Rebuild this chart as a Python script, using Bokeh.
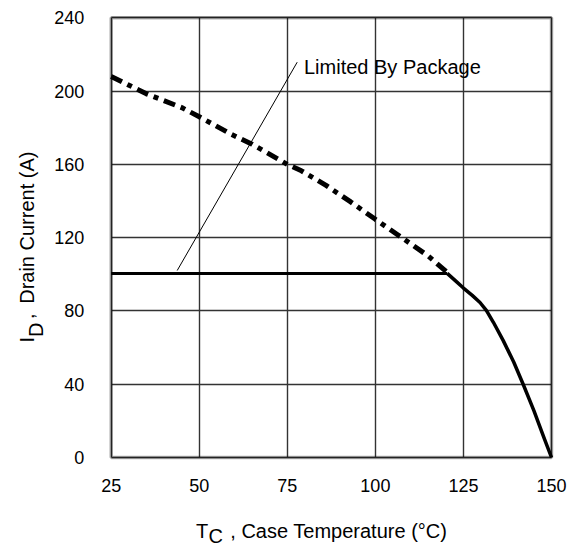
import numpy as np
from bokeh.plotting import figure
from bokeh.models import Label, Range1d, FixedTicker, BoxAnnotation, Grid
from bokeh.embed import file_html
from bokeh.resources import INLINE

# ---- data ----
temp_dashed = [25, 35, 45, 50, 59, 65, 75, 79, 86, 93, 100, 106, 115, 120.4]
id_dashed = [208, 198.5, 191, 186, 176.5, 171, 160, 156.5, 148.5, 139.5, 130, 122, 110, 101]
temp_solid = [120.4, 123, 125, 127.5, 129.7, 131.5, 133.5, 136.3, 139.3, 142.1, 145.0, 147.8, 150]
id_solid = [100.5, 96, 92.5, 88.5, 84.6, 80.3, 73.8, 63.8, 52.0, 39.3, 25.6, 11.1, 0]
package_temp = [25, 120.4]
package_id = [100.5, 100.5]
x_ticks = [25, 50, 75, 100, 125, 150]
y_ticks = [0, 40, 80, 120, 160, 200, 240]

FONT = "Liberation Sans"
X0, X1, Y0, Y1 = 25, 150, 0, 240
FL, FT, FW, FH = 110.7, 17.3, 440.3, 439.7  # chart box position in page pixels
W, H = 568, 544                             # canvas size


def px_to_x(px):
    return X0 + (px - FL) * (X1 - X0) / FW


def py_to_y(py):
    return Y0 + (FT + FH - py) * (Y1 - Y0) / FH


# the frame spans the whole canvas so that titles drawn outside the chart box are not clipped
p = figure(width=W, height=H, output_backend="svg", toolbar_location=None,
           x_range=Range1d(px_to_x(0), px_to_x(W)),
           y_range=Range1d(py_to_y(H), py_to_y(0)),
           min_border=0)

p.background_fill_color = "white"
p.border_fill_color = "white"
p.outline_line_color = None

p.xaxis.fixed_location = Y0
p.yaxis.fixed_location = X0
for ax, tk, so in ((p.xaxis, x_ticks, 21), (p.yaxis, y_ticks, 27)):
    ax.ticker = FixedTicker(ticks=tk)
    ax.axis_line_color = None
    ax.major_tick_line_color = None
    ax.minor_tick_line_color = None
    ax.major_tick_out = 0
    ax.major_tick_in = 0
    ax.major_label_standoff = so
    ax.major_label_text_font = FONT
    ax.major_label_text_font_size = "18px"
    ax.major_label_text_color = "black"

GRID_COLOR, GRID_W = "#333333", 1.4
if "cross_bounds" in Grid.properties():
    p.xgrid.ticker = FixedTicker(ticks=x_ticks)
    p.ygrid.ticker = FixedTicker(ticks=y_ticks)
    p.xgrid.cross_bounds = (Y0, Y1)
    p.ygrid.cross_bounds = (X0, X1)
    for g in (p.xgrid, p.ygrid):
        g.grid_line_color = GRID_COLOR
        g.grid_line_width = GRID_W
else:
    for g in (p.xgrid, p.ygrid):
        g.visible = False
    p.segment(x0=x_ticks, y0=[Y0] * len(x_ticks), x1=x_ticks, y1=[Y1] * len(x_ticks),
              line_color=GRID_COLOR, line_width=GRID_W)
    p.segment(x0=[X0] * len(y_ticks), y0=y_ticks, x1=[X1] * len(y_ticks), y1=y_ticks,
              line_color=GRID_COLOR, line_width=GRID_W)

p.line(temp_dashed, id_dashed, line_color="black", line_width=5, line_dash="12 6 5 6")
p.line(temp_solid, id_solid, line_color="black", line_width=3.5, line_join="round")
p.line(package_temp, package_id, line_color="black", line_width=3)

# chart border
p.add_layout(BoxAnnotation(left=X0, right=X1, bottom=Y0, top=Y1, fill_color=None,
                           line_color="black", line_width=3.5))

# leader line of the annotation
p.line([px_to_x(176.7), px_to_x(296.7)], [py_to_y(270), py_to_y(61.7)],
       line_color="black", line_width=1)

p.add_layout(Label(x=px_to_x(303.5), y=py_to_y(66.7), text="Limited By Package",
                   text_font=FONT, text_font_size="20px", text_color="black",
                   text_baseline="alphabetic", text_align="left"))

# x axis title: T_C , Case Temperature (°C)
for txt, px, py in (("T", 195.5, 530), ("C", 208, 535), (", Case Temperature (°C)", 229.8, 530)):
    p.add_layout(Label(x=px_to_x(px), y=py_to_y(py), text=txt, text_font=FONT,
                       text_font_size="20px", text_color="black",
                       text_baseline="alphabetic", text_align="left"))

# y axis title: I_D,  Drain Current (A)
for txt, px, py in (("I", 26.7, 341.9), ("D", 35, 336.6), (",", 26.7, 318.4),
                    ("Drain Current (A)", 26.7, 303.3)):
    p.add_layout(Label(x=px_to_x(px), y=py_to_y(py), text=txt, text_font=FONT,
                       text_font_size="20px", text_color="black", angle=np.pi / 2,
                       text_baseline="alphabetic", text_align="left"))

open("out.html", "w").write(file_html(p, INLINE))
